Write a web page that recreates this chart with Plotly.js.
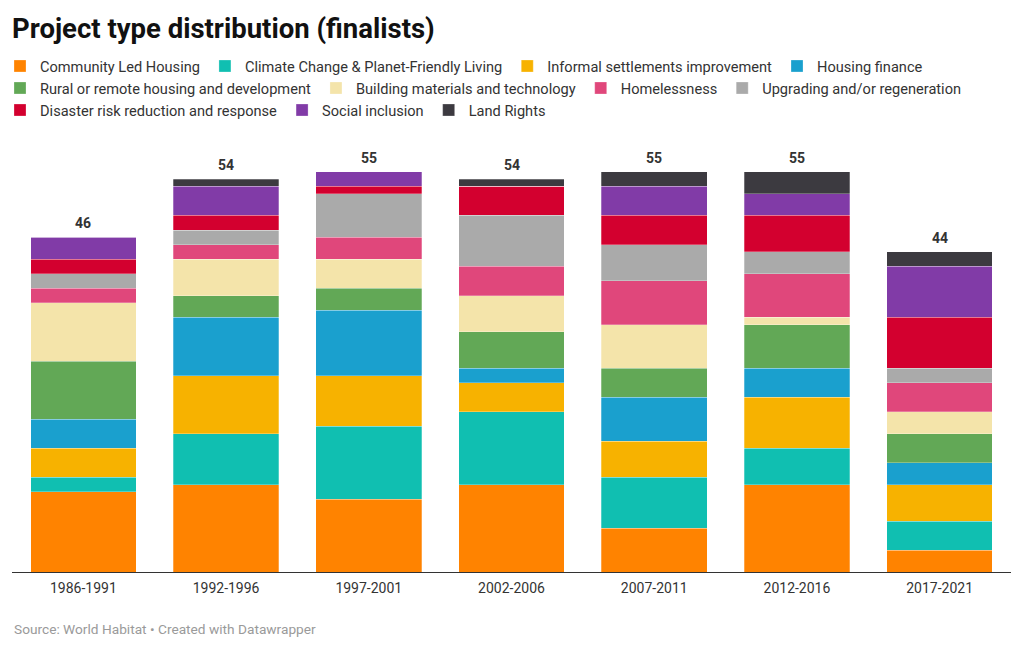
<!DOCTYPE html>
<html>
<head>
<meta charset="utf-8">
<script src="https://cdn.plot.ly/plotly-3.0.1.min.js"></script>
<style>
  html, body { margin: 0; padding: 0; background: #ffffff; }
  #chart { width: 1024px; height: 650px; }
</style>
</head>
<body>
<div id="chart"></div>
<script>
const periods = ["1986-1991", "1992-1996", "1997-2001", "2002-2006", "2007-2011", "2012-2016", "2017-2021"];

const seriesNames = [
  "Community Led Housing",
  "Climate Change & Planet-Friendly Living",
  "Informal settlements improvement",
  "Housing finance",
  "Rural or remote housing and development",
  "Building materials and technology",
  "Homelessness",
  "Upgrading and/or regeneration",
  "Disaster risk reduction and response",
  "Social inclusion",
  "Land Rights"
];

const communityLed   = [11, 12, 10, 12, 6, 12, 3];
const climateChange  = [2, 7, 10, 10, 7, 5, 4];
const informal       = [4, 8, 7, 4, 5, 7, 5];
const housingFinance = [4, 8, 9, 2, 6, 4, 3];
const rural          = [8, 3, 3, 5, 4, 6, 4];
const buildingMat    = [8, 5, 4, 5, 6, 1, 3];
const homelessness   = [2, 2, 3, 4, 6, 6, 4];
const upgrading      = [2, 2, 6, 7, 5, 3, 2];
const disaster       = [2, 2, 1, 4, 4, 5, 7];
const socialIncl     = [3, 4, 2, 0, 4, 3, 7];
const landRights     = [0, 1, 0, 1, 2, 3, 2];

const seriesValues = [communityLed, climateChange, informal, housingFinance, rural,
  buildingMat, homelessness, upgrading, disaster, socialIncl, landRights];

const colors = ["#ff8300", "#10bfb1", "#f7b200", "#1aa0ce", "#62a856", "#f4e4aa",
  "#e0477b", "#aaaaaa", "#d3002f", "#813ba7", "#3c3a40"];

// legend row each series appears in (as in the reference)
const legendRow = ["legend", "legend", "legend", "legend",
  "legend2", "legend2", "legend2", "legend2",
  "legend3", "legend3", "legend3"];

const FONT = "Roboto, 'Open Sans', sans-serif";

const traces = seriesNames.map((name, i) => ({
  type: "bar",
  name: name,
  x: periods,
  y: seriesValues[i],
  legend: legendRow[i],
  marker: { color: colors[i], line: { color: "rgba(255,255,255,0.45)", width: 0.6 } },
  hoverinfo: "skip"
}));

const totals = periods.map((p, j) => seriesValues.reduce((s, arr) => s + arr[j], 0));

const annotations = periods.map((p, j) => ({
  x: p, y: totals[j], xref: "x", yref: "y",
  text: "<b>" + totals[j] + "</b>",
  showarrow: false, yanchor: "bottom", yshift: 4,
  font: { family: FONT, size: 14, color: "#333333" }
}));

annotations.push({
  xref: "paper", yref: "paper", x: 0, y: -(629 - 572) / 422,
  xanchor: "left", yanchor: "middle", showarrow: false,
  text: "Source: World Habitat • Created with Datawrapper",
  font: { family: FONT, size: 13.7, color: "#9a9a9a" }
});

function legendAt(yc) {
  return {
    orientation: "h", traceorder: "normal",
    xref: "container", yref: "container",
    x: 0, xanchor: "left",
    y: 1 - yc / 650, yanchor: "middle",
    font: { family: FONT, size: 14.6, color: "#333333" },
    itemclick: false, itemdoubleclick: false,
    bgcolor: "rgba(0,0,0,0)"
  };
}

const layout = {
  width: 1024, height: 650,
  paper_bgcolor: "#ffffff", plot_bgcolor: "#ffffff",
  margin: { l: 12, r: 13, t: 150, b: 78, pad: 0 },
  barmode: "stack",
  bargap: 0.26,
  showlegend: true,
  title: {
    text: "<b>Project type distribution (finalists)</b>",
    x: 12 / 1024, xanchor: "left", xref: "container",
    y: 1 - 28 / 650, yanchor: "middle", yref: "container",
    font: { family: FONT, size: 27.5, color: "#111111" }
  },
  legend: legendAt(66),
  legend2: legendAt(88),
  legend3: legendAt(110),
  xaxis: {
    showline: true, linecolor: "#333333", linewidth: 1,
    ticks: "", showgrid: false, zeroline: false,
    ticklabelstandoff: 3,
    tickfont: { family: FONT, size: 14, color: "#333333" },
    fixedrange: true
  },
  yaxis: {
    range: [0, 58], visible: false, showgrid: false, zeroline: false, fixedrange: true
  },
  annotations: annotations,
  hovermode: false
};

Plotly.newPlot("chart", traces, layout, { displayModeBar: false, staticPlot: true });
</script>
</body>
</html>
